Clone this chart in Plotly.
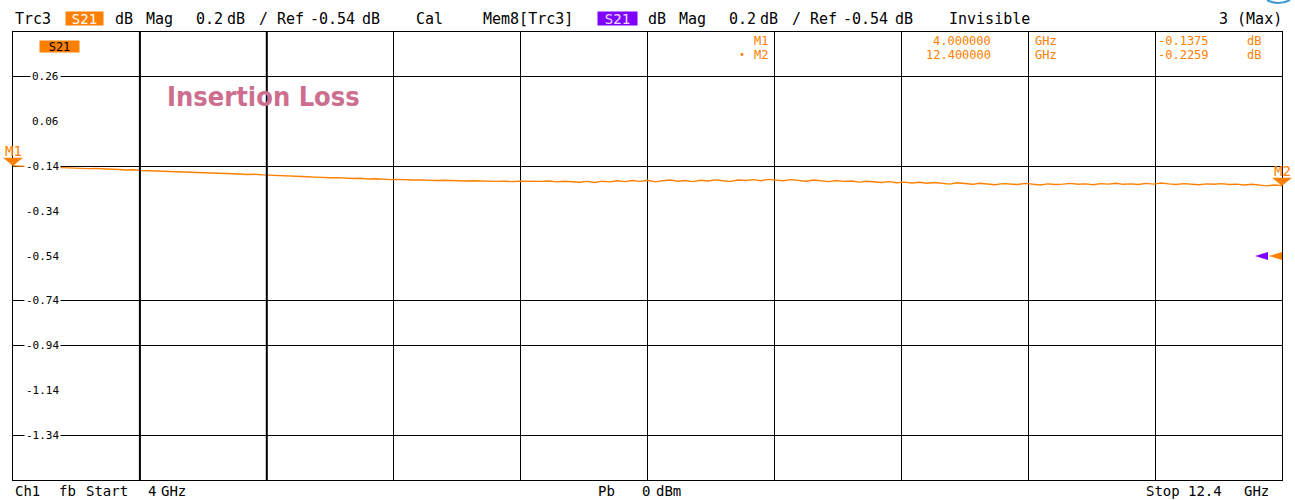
import numpy as np
import plotly.graph_objects as go

# ---------------- data ----------------
START_GHZ = 4.0
STOP_GHZ = 12.4
REF_DB = -0.54
DB_PER_DIV = 0.2
N_DIV = 10

# S21 magnitude (dB) at 0.05 GHz steps from 4.00 to 12.40 GHz
s21_db = [
    -0.1375, -0.139, -0.1385, -0.141, -0.142, -0.144, -0.1435, -0.146, -0.147, -0.148,
    -0.150, -0.1495, -0.152, -0.153, -0.154, -0.156, -0.155, -0.158, -0.159, -0.161,
    -0.162, -0.164, -0.165, -0.1645, -0.167, -0.168, -0.170, -0.169, -0.172, -0.173,
    -0.174, -0.176, -0.175, -0.178, -0.179, -0.181, -0.180, -0.183, -0.184, -0.186,
    -0.188, -0.190, -0.191, -0.190, -0.193, -0.194, -0.193, -0.196, -0.195, -0.198,
    -0.199, -0.198, -0.200, -0.201, -0.200, -0.202, -0.203, -0.202, -0.204, -0.203,
    -0.205, -0.204, -0.206, -0.205, -0.207, -0.206, -0.208, -0.206, -0.207, -0.209,
    -0.207, -0.205, -0.209, -0.206, -0.208, -0.211, -0.207, -0.212, -0.206, -0.209,
    -0.204, -0.208, -0.203, -0.207, -0.202, -0.209, -0.204, -0.201, -0.206, -0.203,
    -0.208, -0.202, -0.205, -0.200, -0.204, -0.207, -0.201, -0.203, -0.199, -0.204,
    -0.198, -0.202, -0.204, -0.199, -0.203, -0.206, -0.201, -0.204, -0.208, -0.203,
    -0.207, -0.205, -0.210, -0.206, -0.209, -0.212, -0.208, -0.213, -0.210, -0.214,
    -0.211, -0.215, -0.212, -0.216, -0.219, -0.213, -0.217, -0.220, -0.215, -0.218,
    -0.222, -0.217, -0.219, -0.221, -0.216, -0.220, -0.223, -0.218, -0.221, -0.219,
    -0.216, -0.220, -0.218, -0.222, -0.217, -0.219, -0.215, -0.220, -0.218, -0.221,
    -0.216, -0.219, -0.214, -0.218, -0.221, -0.217, -0.219, -0.222, -0.218, -0.220,
    -0.217, -0.221, -0.219, -0.223, -0.220, -0.224, -0.227, -0.223, -0.2259,
]
freq_ghz = np.linspace(START_GHZ, STOP_GHZ, len(s21_db))

y_ticks = [0.26, 0.06, -0.14, -0.34, -0.54, -0.74, -0.94, -1.14, -1.34]
y_tick_text = ["0.26", "0.06", "-0.14", "-0.34", "-0.54", "-0.74", "-0.94", "-1.14", "-1.34"]
y_grid_visible = [0.26, -0.14, -0.74, -0.94, -1.34]
x_grid_thick = [4.84, 5.68]

marker_names = ["M1", "M2"]
marker_freq = [4.0, 12.4]
marker_db = [-0.1375, -0.2259]
marker_freq_text = ["4.000000", "12.400000"]
marker_db_text = ["-0.1375", "-0.2259"]

# ---------------- style / layout ----------------
ORANGE = "#FF8000"
PURPLE = "#8000FF"
PINK = "#CE6E8F"
MONO = "DejaVu Sans Mono"

W, H = 1295, 500
ML, MR, MT, MB = 13, 13, 32, 20
PW, PH = W - ML - MR, H - MT - MB


def px(x):
    return (x - ML) / PW


def py(y):
    return (MT + PH - y) / PH


def fx(f):
    return (f - START_GHZ) / (STOP_GHZ - START_GHZ)


def txt(s, x, y, size=15, color="black", anchor="left", family=MONO, **kw):
    return dict(text=s, x=px(x), y=py(y), xref="paper", yref="paper",
                xanchor=anchor, yanchor="middle", showarrow=False,
                font=dict(family=family, size=size, color=color), **kw)


y_lo = REF_DB - DB_PER_DIV * N_DIV / 2
y_hi = REF_DB + DB_PER_DIV * N_DIV / 2

fig = go.Figure()
fig.add_trace(go.Scatter(x=freq_ghz, y=s21_db, mode="lines",
                         line=dict(color=ORANGE, width=1.4),
                         hoverinfo="skip", showlegend=False))

fig.update_xaxes(range=[START_GHZ, STOP_GHZ], tick0=START_GHZ,
                 dtick=(STOP_GHZ - START_GHZ) / N_DIV, showgrid=True,
                 gridcolor="black", gridwidth=1, showticklabels=False, ticks="",
                 showline=True, mirror=True, linecolor="black", linewidth=1,
                 zeroline=False)
fig.update_yaxes(range=[y_lo, y_hi], tickvals=y_grid_visible, showgrid=True,
                 gridcolor="black", gridwidth=1, showticklabels=False, ticks="",
                 showline=True, mirror=True, linecolor="black", linewidth=1,
                 zeroline=False)

shapes = []
for f in x_grid_thick:
    shapes.append(dict(type="line", xref="x", yref="paper", x0=f, x1=f, y0=0, y1=1,
                       line=dict(color="black", width=2)))

# marker triangles (tip on the trace point)
for f, v in zip(marker_freq, marker_db):
    shapes.append(dict(type="path", xref="paper", yref="y", xsizemode="pixel",
                       ysizemode="pixel", xanchor=fx(f), yanchor=v,
                       path="M -10,8 L 10,8 L 0,0 Z", fillcolor=ORANGE,
                       line=dict(width=0)))

# reference level arrows at right edge
shapes.append(dict(type="path", xref="paper", yref="y", xsizemode="pixel",
                   ysizemode="pixel", xanchor=fx(STOP_GHZ), yanchor=REF_DB,
                   path="M 0,4 L 0,-4 L -13,0 Z", fillcolor=ORANGE, line=dict(width=0)))
shapes.append(dict(type="path", xref="paper", yref="y", xsizemode="pixel",
                   ysizemode="pixel", xanchor=fx(STOP_GHZ), yanchor=REF_DB,
                   path="M -14,4 L -14,-4 L -27,0 Z", fillcolor=PURPLE, line=dict(width=0)))

# small blue icon at top right corner
shapes.append(dict(type="path", xref="paper", yref="paper",
                   path=f"M {px(1267)},{py(0)} Q {px(1278)},{py(6)} {px(1290)},{py(0)}",
                   line=dict(color="#3A9AD9", width=2)))

ann = []
# y tick labels inside the plot area
for v, t in zip(y_ticks, y_tick_text):
    ann.append(dict(text=t, x=px(61), y=v, xref="paper", yref="y", xanchor="right",
                    yanchor="middle", showarrow=False, bgcolor="white", borderpad=1,
                    font=dict(family=MONO, size=11, color="black")))

# header
header_words = [("Trc3", 13), ("dB", 113), ("Mag", 144), ("0.2", 194), ("dB", 225),
                ("/", 257), ("Ref", 275), ("-0.54", 308), ("dB", 360), ("Cal", 414),
                ("Mem8[Trc3]", 481), ("dB", 646), ("Mag", 677), ("0.2", 727), ("dB", 758),
                ("/", 790), ("Ref", 808), ("-0.54", 841), ("dB", 893), ("Invisible", 947)]
for s, x in header_words:
    ann.append(txt(s, x, 19))
ann.append(txt("3 (Max)", 1284, 19, anchor="right"))
ann.append(txt("S21", 65, 19, size=14, color="white", bgcolor=ORANGE, width=37,
               height=13, borderpad=0, align="center"))
ann.append(txt("S21", 597, 19, size=14, color="#F0E0FF", bgcolor=PURPLE, width=39,
               height=13, borderpad=0, align="center"))

# in-plot S21 label
ann.append(txt("S21", 39, 46, size=12, color="black", bgcolor=ORANGE, width=39,
               height=11, borderpad=0, align="center"))

# marker table
rows_y = [41, 54]
for i in range(2):
    ann.append(txt(marker_names[i], 753, rows_y[i], size=12, color=ORANGE, height=11, borderpad=0))
    ann.append(txt(marker_freq_text[i], 992, rows_y[i], size=12, color=ORANGE, anchor="right",
                   height=11, borderpad=0))
    ann.append(txt("GHz", 1034, rows_y[i], size=12, color=ORANGE, height=11, borderpad=0))
    ann.append(txt(marker_db_text[i], 1210, rows_y[i], size=12, color=ORANGE, anchor="right",
                   height=11, borderpad=0))
    ann.append(txt("dB", 1246, rows_y[i], size=12, color=ORANGE, height=11, borderpad=0))
ann.append(txt("•", 738, rows_y[1], size=10, color=ORANGE, height=11, borderpad=0))

# marker labels on the trace
ann.append(dict(text="M1", x=fx(marker_freq[0]), y=marker_db[0], xref="paper", yref="y",
                xanchor="center", yanchor="middle", yshift=15, showarrow=False,
                font=dict(family=MONO, size=14, color=ORANGE)))
ann.append(dict(text="M2", x=fx(marker_freq[1]), y=marker_db[1], xref="paper", yref="y",
                xanchor="center", yanchor="middle", yshift=15, showarrow=False,
                font=dict(family=MONO, size=14, color=ORANGE)))

# Insertion Loss title
ann.append(txt("<b>Insertion Loss</b>", 165, 96, size=27, color=PINK,
               family="DejaVu Sans Condensed, Liberation Sans"))

# footer
footer_words = [("Ch1", 13), ("fb", 57), ("Start", 84), ("4", 146), ("GHz", 159),
                ("Pb", 596), ("0", 640), ("dBm", 654), ("Stop", 1144), ("12.4", 1186),
                ("GHz", 1242)]
for s, x in footer_words:
    ann.append(txt(s, x, 491, size=14))

fig.update_layout(width=W, height=H, margin=dict(l=ML, r=MR, t=MT, b=MB, pad=0),
                  paper_bgcolor="white", plot_bgcolor="white", shapes=shapes,
                  annotations=ann, showlegend=False)

fig.write_html("out.html", config={"displayModeBar": False},
               post_script="document.body.style.margin='0px';")
